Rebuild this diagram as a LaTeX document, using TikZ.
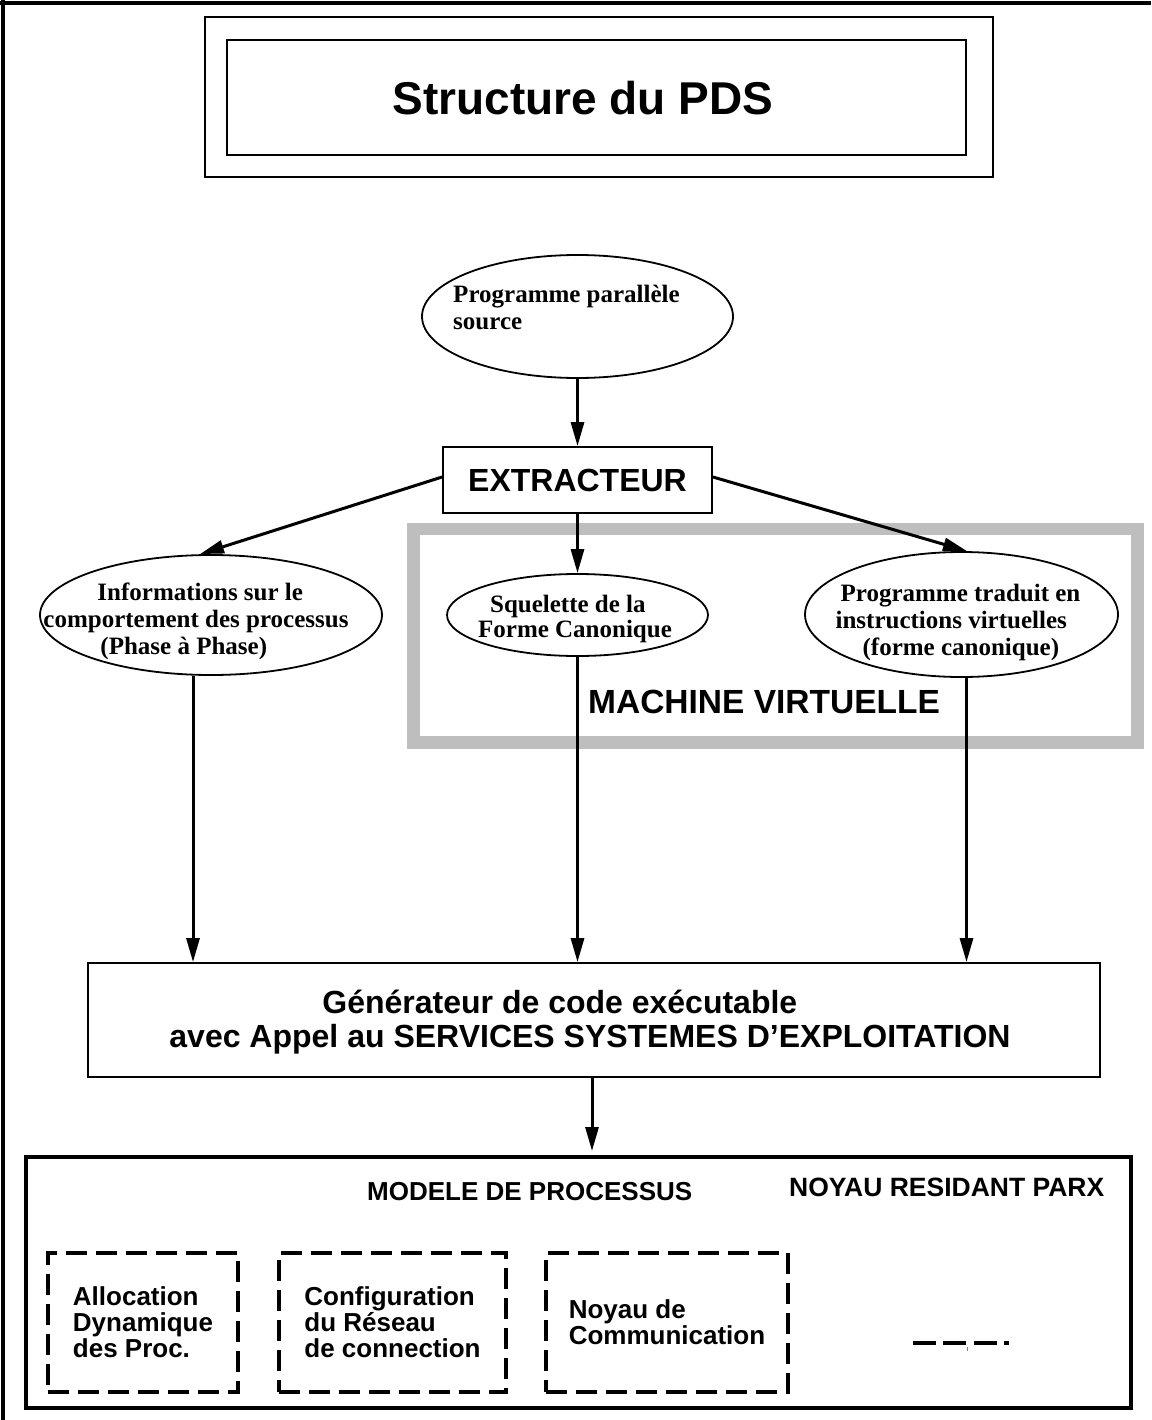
\documentclass[tikz,border=0pt]{standalone}
\usepackage{fontspec}
\setmainfont{Liberation Serif}
\newfontfamily\hel{Liberation Sans}
\usetikzlibrary{arrows.meta,shapes.geometric,calc}
\definecolor{vmgray}{RGB}{190,190,190}
\begin{document}
\begin{tikzpicture}[x=1pt,y=-1pt,
  arr/.style={line width=3pt,-{Triangle[length=24pt,width=13pt]}},
  ell/.style={ellipse,draw,line width=1.8pt,inner sep=0pt},
  ttxt/.style={font=\bfseries\fontsize{25}{27}\selectfont,align=left,inner sep=0pt},
  box/.style={draw,line width=1.8pt,inner sep=0pt},
  hb/.style={font=\hel\bfseries\fontsize{#1}{#1}\selectfont,inner sep=0pt},
  dbox/.style={draw,line width=3.5pt,dash pattern=on 21pt off 9pt,inner sep=0pt,align=left,font=\hel\bfseries\fontsize{26}{26}\selectfont},
  ]
\useasboundingbox (0,0) rectangle (1151,1420);
\fill[white] (0,0) rectangle (1151,1420);
% outer frame (top and left edges)
\draw[line width=4pt] (0,3) -- (1151,3);
\draw[line width=4pt] (3,0) -- (3,1420);
% title
\node[box,minimum width=788pt,minimum height=160pt] (tout) at (599,97) {};
\node[box,minimum width=739pt,minimum height=115pt] (tin) at (596.5,97.5) {};
\node[hb=46] (title) at (583,98) {Structure du PDS};
% virtual machine frame
\node[draw=vmgray,line width=12.5pt,minimum width=724pt,minimum height=213.5pt,inner sep=0pt] (vm) at (775.5,635.75) {};
\node[hb=33.5,anchor=base west] (vmlabel) at (588,713) {MACHINE VIRTUELLE};
% source program
\node[ell,minimum width=311pt,minimum height=123pt] (src) at (577.5,316.5) {};
\node[ttxt] (srct) at (566.5,307.5) {Programme parallèle\\source};
% extractor
\node[box,hb=32,minimum width=269pt,minimum height=66pt] (ext) at (577.5,480) {EXTRACTEUR};
% three products
\node[ell,minimum width=342pt,minimum height=120pt] (info) at (211,615) {};
\node[ttxt] (infot) at (196,621) {\hspace*{54pt}Informations sur le\\comportement des processus\\\hspace*{57pt}(Phase à Phase)};
\node[ell,minimum width=261pt,minimum height=82pt] (sq) at (577.5,615) {};
\node[ttxt,font=\bfseries\fontsize{25}{25}\selectfont] (sqt) at (575,618.5) {\hspace*{12pt}Squelette de la\\Forme Canonique};
\node[ell,minimum width=313pt,minimum height=125pt] (trad) at (961.5,614.5) {};
\node[ttxt] (tradt) at (958,622) {\hspace*{5pt}Programme traduit en\\instructions virtuelles\\\hspace*{27pt}(forme canonique)};
% generator
\node[box,minimum width=1012pt,minimum height=114pt] (gen) at (594,1020) {};
\node[align=left,font=\hel\bfseries\fontsize{32}{34}\selectfont,inner sep=0pt] (gent) at (590,1022) {\hspace*{153pt}Générateur de code exécutable\\avec Appel au SERVICES SYSTEMES D’EXPLOITATION};
% bottom block
\node[draw,line width=4pt,minimum width=1105pt,minimum height=251pt,inner sep=0pt] (base) at (578.5,1282.5) {};
\node[hb=26,anchor=base west] (modele) at (367,1200) {MODELE DE PROCESSUS};
\node[hb=26.5,anchor=base west] (noyau) at (789,1196.5) {NOYAU RESIDANT PARX};
\node[dbox,minimum width=190pt,minimum height=139pt] (alloc) at (143,1322.5) {Allocation\\Dynamique\\des Proc.};
\node[dbox,minimum width=227pt,minimum height=139pt] (conf) at (392.5,1322.5) {Configuration\\du Réseau\\de connection};
\node[dbox,minimum width=242pt,minimum height=139pt] (comm) at (667,1322.5) {Noyau de\\Communication};
\draw[line width=3.3pt,dash pattern=on 23pt off 7pt on 23pt off 8pt on 23pt off 7pt on 5pt off 50pt] (913,1343) -- (1009,1343);
\draw[gray,line width=1pt] (967,1347) -- (967,1351);
% connectors
\draw[arr] (src) -- (ext);
\draw[arr] (ext) -- (sq);
\draw[arr] ($(ext.west)+(0,-3)$) -- ($(info.north)+(-11,0)$);
\draw[arr] ($(ext.east)+(0,-3)$) -- ($(trad.north)+(5.5,0)$);
\coordinate (ia) at ($(info.south)+(-18,0)$);
\coordinate (ta) at ($(trad.south)+(5,0)$);
\coordinate (ga) at ($(gen.south)+(-2,0)$);
\draw[arr] (ia) -- (ia |- gen.north);
\draw[arr] (sq.south) -- (sq.south |- gen.north);
\draw[arr] (ta) -- (ta |- gen.north);
\draw[arr,shorten >=4pt] (ga) -- (ga |- base.north);
\end{tikzpicture}
\end{document}
